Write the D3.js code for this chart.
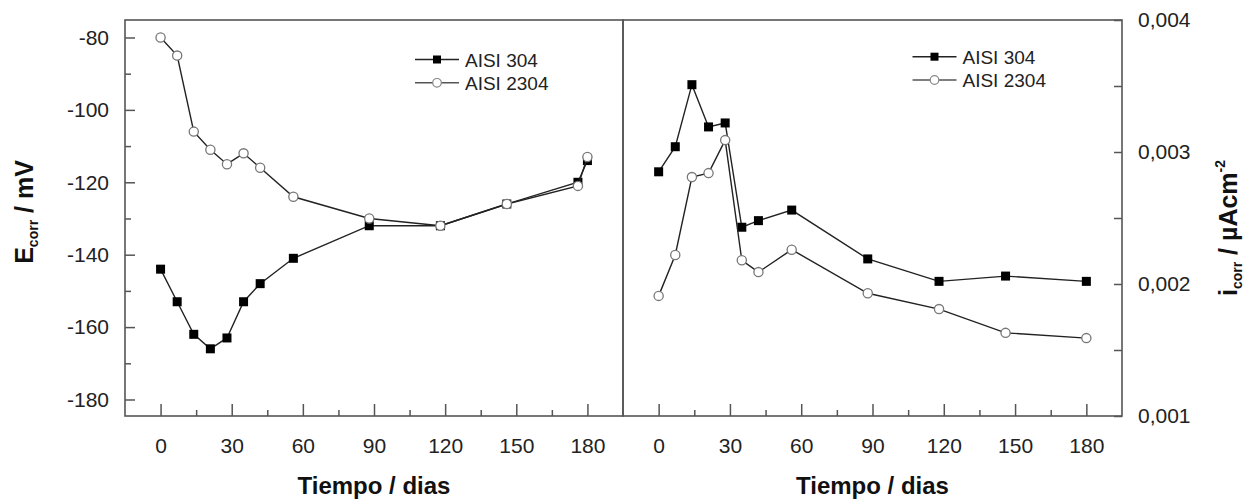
<!DOCTYPE html>
<html>
<head>
<meta charset="utf-8">
<script src="https://cdn.jsdelivr.net/npm/d3@7"></script>
<style>
  body { margin: 0; background: #fff; }
  svg { display: block; font-family: "Liberation Sans", Arial, sans-serif; }
</style>
</head>
<body>
<svg width="1256" height="503"></svg>
<script>
// ---- data ----
const seriesNames = ["AISI 304", "AISI 2304"];

// left panel: Ecorr (mV) vs time (days)
const daysLeft = [0, 7, 14, 21, 28, 35, 42, 56, 88, 118, 146, 176, 180];
const ecorr304 = [-144, -153, -162, -166, -163, -153, -148, -141, -132, -132, -126, -120, -114];
const ecorr2304 = [-80, -85, -106, -111, -115, -112, -116, -124, -130, -132, -126, -121, -113];

// right panel: icorr vs time (days)
const daysRight = [0, 7, 14, 21, 28, 35, 42, 56, 88, 118, 146, 180];
const icorr304 = [0.00285, 0.00304, 0.00351, 0.00319, 0.00322, 0.00243, 0.00248, 0.00256, 0.00219, 0.00202, 0.00206, 0.00202];
const icorr2304 = [0.00191, 0.00222, 0.00281, 0.00284, 0.00309, 0.00218, 0.00209, 0.00226, 0.00193, 0.00181, 0.00163, 0.00159];

const xTicks = [0, 30, 60, 90, 120, 150, 180];
const xMinor = [15, 45, 75, 105, 135, 165];
const eTicks = [-180, -160, -140, -120, -100, -80];
const eMinor = [-170, -150, -130, -110, -90];
const iTicks = [0.001, 0.002, 0.003, 0.004];
const iMinor = [0.0015, 0.0025, 0.0035];

const svg = d3.select("svg");
const plotTop = 20, plotBottom = 416;
const frameColor = "#555";
const lineColor = "#222";

const locale = d3.formatLocale({decimal: ",", thousands: ".", grouping: [3], currency: ["", ""], minus: "-"});
const fmtI = locale.format(".3f");

// scales
const xL = d3.scaleLinear().domain([-15, 195]).range([125, 623]);
const xR = d3.scaleLinear().domain([-15, 195]).range([623, 1122]);
const yL = d3.scaleLinear().domain([-184.56, -75.17]).range([plotBottom, plotTop]);
const yR = d3.scaleLinear().domain([0.001, 0.004]).range([plotBottom, plotTop]);

function styleAxis(g) {
  g.select(".domain").remove();
  g.selectAll(".tick line").attr("stroke", frameColor).attr("stroke-width", 1.5);
  g.selectAll(".tick text").attr("fill", "#222").style("font-size", "21px")
    .style("font-family", "'Liberation Sans', Arial, sans-serif");
}

function bottomAxis(x) {
  svg.append("g").attr("transform", `translate(0,${plotBottom})`)
    .call(d3.axisBottom(x).tickValues(xTicks).tickSize(-12).tickPadding(22).tickFormat(d => d))
    .call(styleAxis);
  svg.append("g").attr("transform", `translate(0,${plotBottom})`)
    .call(d3.axisBottom(x).tickValues(xMinor).tickSize(-6).tickFormat(""))
    .call(styleAxis);
}

bottomAxis(xL);
bottomAxis(xR);

// left y axis
svg.append("g").attr("transform", "translate(125,0)")
  .call(d3.axisLeft(yL).tickValues(eTicks).tickSize(-10).tickPadding(16).tickFormat(d => String(d)))
  .call(styleAxis);
svg.append("g").attr("transform", "translate(125,0)")
  .call(d3.axisLeft(yL).tickValues(eMinor).tickSize(-6).tickFormat(""))
  .call(styleAxis);

// right y axis
svg.append("g").attr("transform", "translate(1122,0)")
  .call(d3.axisRight(yR).tickValues(iTicks).tickSize(-8).tickPadding(16).tickFormat(fmtI))
  .call(styleAxis);
svg.append("g").attr("transform", "translate(1122,0)")
  .call(d3.axisRight(yR).tickValues(iMinor).tickSize(-8).tickFormat(""))
  .call(styleAxis);

// frames
svg.append("rect").attr("x", 125).attr("y", plotTop).attr("width", 623 - 125).attr("height", plotBottom - plotTop)
  .attr("fill", "none").attr("stroke", frameColor).attr("stroke-width", 1.6);
svg.append("rect").attr("x", 623).attr("y", plotTop).attr("width", 1122 - 623).attr("height", plotBottom - plotTop)
  .attr("fill", "none").attr("stroke", frameColor).attr("stroke-width", 1.6);

// series drawing
function drawSeries(x, y, days, vals, filled) {
  const pts = days.map((d, i) => [d, vals[i]]);
  const g = svg.append("g");
  g.append("path")
    .attr("d", d3.line().x(p => x(p[0])).y(p => y(p[1]))(pts))
    .attr("fill", "none").attr("stroke", lineColor).attr("stroke-width", 1.4);
  if (filled) {
    g.selectAll("rect").data(pts).join("rect")
      .attr("x", p => x(p[0]) - 4.5).attr("y", p => y(p[1]) - 4.5)
      .attr("width", 9).attr("height", 9).attr("fill", "#000");
  } else {
    g.selectAll("circle").data(pts).join("circle")
      .attr("cx", p => x(p[0])).attr("cy", p => y(p[1])).attr("r", 4.6)
      .attr("fill", "#fff").attr("stroke", "#777").attr("stroke-width", 1.3);
  }
}

drawSeries(xL, yL, daysLeft, ecorr304, true);
drawSeries(xL, yL, daysLeft, ecorr2304, false);
drawSeries(xR, yR, daysRight, icorr304, true);
drawSeries(xR, yR, daysRight, icorr2304, false);

// legends
function legend(x0, y0) {
  seriesNames.forEach((name, i) => {
    const yy = y0 + i * 23.3;
    const g = svg.append("g");
    g.append("line").attr("x1", x0).attr("x2", x0 + 44).attr("y1", yy).attr("y2", yy)
      .attr("stroke", i === 0 ? lineColor : "#555").attr("stroke-width", 1.4);
    if (i === 0) {
      g.append("rect").attr("x", x0 + 22 - 4).attr("y", yy - 4).attr("width", 8).attr("height", 8).attr("fill", "#000");
    } else {
      g.append("circle").attr("cx", x0 + 22).attr("cy", yy).attr("r", 4.3)
        .attr("fill", "#fff").attr("stroke", "#888").attr("stroke-width", 1.2);
    }
    g.append("text").attr("x", x0 + 50).attr("y", yy + 7).attr("fill", "#222")
      .style("font-size", "19px").text(name);
  });
}
legend(415, 59.5);
legend(912.5, 56.7);

// axis titles
svg.append("text").attr("x", 374).attr("y", 494).attr("text-anchor", "middle")
  .style("font-size", "24px").style("font-weight", "bold").attr("fill", "#111").text("Tiempo / dias");
svg.append("text").attr("x", 872.5).attr("y", 494).attr("text-anchor", "middle")
  .style("font-size", "24px").style("font-weight", "bold").attr("fill", "#111").text("Tiempo / dias");

const eTitle = svg.append("text").attr("transform", "translate(33,212) rotate(-90)")
  .attr("text-anchor", "middle").style("font-size", "25px").style("font-weight", "bold").attr("fill", "#111");
eTitle.append("tspan").text("E");
eTitle.append("tspan").attr("dy", 5).style("font-size", "14px").text("corr");
eTitle.append("tspan").attr("dy", -5).text(" / mV");

const iTitle = svg.append("text").attr("transform", "translate(1237,228) rotate(-90)")
  .attr("text-anchor", "middle").style("font-size", "25px").style("font-weight", "bold").attr("fill", "#111");
iTitle.append("tspan").text("i");
iTitle.append("tspan").attr("dy", 5).style("font-size", "14px").text("corr");
iTitle.append("tspan").attr("dy", -5).text(" / \u00b5Acm");
iTitle.append("tspan").attr("dy", -12).style("font-size", "14px").text("-2");
</script>
</body>
</html>
